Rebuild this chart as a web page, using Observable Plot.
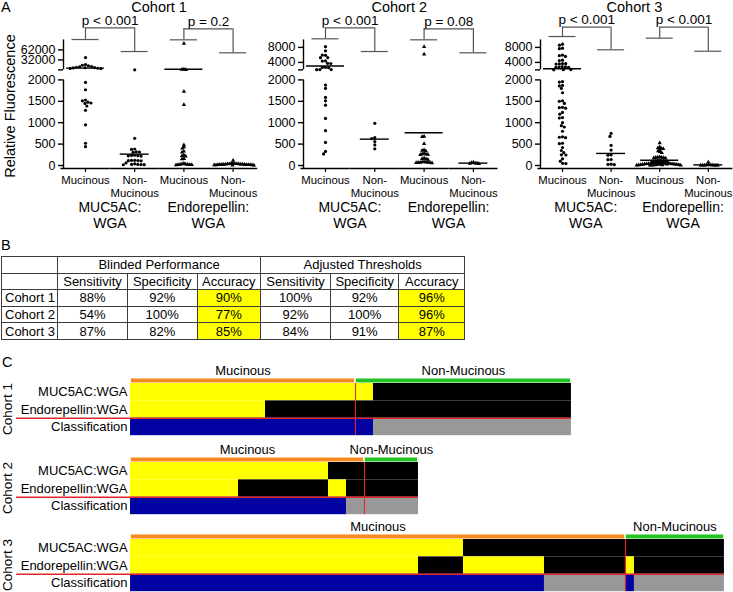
<!DOCTYPE html>
<html>
<head>
<meta charset="utf-8">
<script src="https://cdn.jsdelivr.net/npm/d3@7"></script>
<script src="https://cdn.jsdelivr.net/npm/@observablehq/plot@0.6"></script>
<style>
html,body{margin:0;padding:0;background:#fff;}
#fig{position:relative;width:733px;height:592px;overflow:hidden;background:#fff;font-family:"Liberation Sans",Arial,Helvetica,sans-serif;color:#000;}
.abs{position:absolute;white-space:pre;line-height:1;}
#tbl{position:absolute;left:1px;top:256px;border-collapse:collapse;table-layout:fixed;width:464px;font-size:13px;}
#tbl td{border:1px solid #3c3c3c;padding:0;height:15.6px;line-height:15px;text-align:center;white-space:nowrap;overflow:hidden;}
#tbl td.lab{text-align:left;padding-left:3px;}
#tbl td.hi{background:#ffff00;}
</style>
</head>
<body>
<div id="fig"></div>
<script>
// ======================= DATA =======================
const cohorts = ["Cohort 1", "Cohort 2", "Cohort 3"];
const groupIds = ["MUC5AC_M", "MUC5AC_N", "ENDO_M", "ENDO_N"];
const groupLabels = ["Mucinous", "Non-\nMucinous", "Mucinous", "Non-\nMucinous"];
const ratioLabels = ["MUC5AC:\nWGA", "Endorepellin:\nWGA"];
const yTitle = "Relative Fluorescence";
const lowerTicks = [0, 500, 1000, 1500, 2000];
const breakValue = 2000;
const upperMax = [92000, 10000, 10000];
const upperTicks = [[32000, 62000], [4000, 8000], [4000, 8000]];

// Panel A values (relative fluorescence), cohort 1
const c1MucMucinous = [39000, 18000, 16000, 14000, 12000, 11000, 10000, 9000, 8500, 8000, 7000, 6500, 5900,
  1940, 1770, 1530, 1510, 1480, 1460, 1450, 1390, 1290, 950, 520, 440];
const c1MucNon = [2100, 635, 385, 375, 320, 315, 310, 240, 235, 230, 225, 220, 120, 118, 115, 112, 110, 60, 40, 25, 24, 22, 20, 18];
const c1EndoMucinous = [81000, 4000, 3200, 2800, 1730, 1420, 480, 430, 400, 330, 310, 240, 225, 215, 160, 150,
  45, 35, 30, 25, 22, 20, 18, 15, 12];
const c1EndoNon = [116, 50, 45, 42, 40, 38, 35, 33, 30, 28, 27, 25, 24, 22, 20, 19, 18, 17, 15, 14, 12, 10, 8, 5];
// cohort 2
const c2MucMucinous = [8200, 7100, 5900, 5950, 5300, 5250, 4400, 4350, 3750, 3700, 2700, 2650, 2600, 2100, 2080, 2050,
  1880, 1800, 1590, 1510, 1410, 1100, 814, 540, 330, 270];
const c2MucNon = [985, 650, 630, 560, 480, 390];
const c2EndoMucinous = [8200, 6200, 680, 670, 510, 360, 350, 340, 280, 270, 265, 255, 250, 170, 160, 150, 140,
  85, 80, 78, 75, 72, 70, 68, 65, 60];
const c2EndoNon = [75, 65, 55, 50, 45, 40];
// cohort 3
const c3MucMucinous = [8850, 8600, 7800, 7650, 5950, 5800, 5600, 4600, 4500, 3700, 3650, 3600, 3550, 2850, 2800, 2750, 2700, 2650, 2100, 2050, 2020,
  1960, 1950, 1870, 1860, 1800, 1700, 1510, 1500, 1450, 1360, 1350, 1340, 1240, 1200, 1120, 1110, 1000, 930, 900, 800,
  670, 660, 650, 520, 510, 420, 350, 300, 250, 245, 155, 100, 50, 45];
const c3MucNon = [750, 680, 470, 360, 250, 240, 140, 135, 30, 25, 20];
const c3EndoMucinous = [527, 430, 410, 400, 390, 370, 340, 320, 300, 200, 195, 190, 185, 180, 175, 170,
  120, 115, 110, 105, 100, 95, 90, 85, 80, 75, 70, 65, 60, 55, 50,
  48, 46, 44, 42, 40, 38, 36, 34, 32, 30, 28, 26, 24, 22, 20, 18, 16, 14, 12, 10, 8, 6, 5, 4];
const c3EndoNon = [75, 15, 12, 10, 10, 8, 8, 6, 5, 5, 4];

const pValues = [["p < 0.001", "p = 0.2"], ["p < 0.001", "p = 0.08"], ["p < 0.001", "p < 0.001"]];
// bracket levels, read against each cohort's upper axis segment
const bracketTop = [[128300, 125200], [13230, 12950], [13390, 13390]];
const bracketLeft = [[93100, 92200], [10290, 10020], [10900, 10460]];
const bracketRight = [[57100, 53300], [6900, 6560], [7360, 6980]];

// Panel B table
const tableGroups = ["Blinded Performance", "Adjusted Thresholds"];
const tableMetrics = ["Sensitivity", "Specificity", "Accuracy"];
const blinded = [[88, 92, 90], [54, 100, 77], [87, 82, 85]];
const adjusted = [[100, 92, 96], [92, 100, 96], [84, 91, 87]];

// Panel C
const rowNames = ["MUC5AC:WGA", "Endorepellin:WGA", "Classification"];
const classNames = ["Mucinous", "Non-Mucinous"];
const nMucinous = [25, 26, 55];
const nNonMucinous = [24, 6, 11];
// alternating run lengths of sample calls, starting with a positive call
const muc5acRuns = [[27, 22], [22, 10], [37, 29]];
const endoRuns = [[15, 34], [12, 10, 2, 8], [32, 5, 9, 9, 1, 10]];
const classRuns = [[27, 22], [24, 8], [46, 9, 1, 10]];

// ======================= LAYOUT / STYLE =======================
const FONT = "'Liberation Sans', Arial, Helvetica, sans-serif";
const fig = document.getElementById("fig");
function addText(txt, css) {
  const d = document.createElement("div");
  d.className = "abs";
  d.textContent = txt;
  Object.assign(d.style, css);
  fig.appendChild(d);
  return d;
}
const valuesA = [
  [c1MucMucinous, c1MucNon, c1EndoMucinous, c1EndoNon],
  [c2MucMucinous, c2MucNon, c2EndoMucinous, c2EndoNon],
  [c3MucMucinous, c3MucNon, c3EndoMucinous, c3EndoNon]
];

const K = 2000 / 85.6;     // display units per pixel on the lower segment
const BW = 44;
const STEPS = [49.2, 49.3, 48.6];
const axisX = [63.3, 303.3, 539.5];
const ML = 50, WA = 250;
const meanW = [38, 29, 38, 29];
const dodgePad = [0, 0, -1.2, -1.3];

function panelA(ci) {
  const STEP = STEPS[ci];
  const uMax = upperMax[ci];
  const G = 10 * K, S = 30 * K;
  const disp = (v) => v <= breakValue ? v : breakValue + G + (v - breakValue) / (uMax - breakValue) * S;
  const rows = [];
  valuesA[ci].forEach((vals, gi) => vals.forEach((v) => rows.push({g: groupIds[gi], v, d: disp(v)})));
  const brackets = [0, 1].map((k) => ({
    a: groupIds[2 * k], b: groupIds[2 * k + 1],
    top: disp(bracketTop[ci][k]), left: disp(bracketLeft[ci][k]), right: disp(bracketRight[ci][k]),
    p: pValues[ci][k]
  }));
  const tickPos = [...lowerTicks.map(disp), breakValue + G, ...upperTicks[ci].map(disp)];
  const tickTxt = [...lowerTicks.map(String), "", ...upperTicks[ci].map(String)];
  const tickMap = new Map(tickPos.map((p, i) => [p, tickTxt[i]]));
  const yDom = [-3 * K, 139 * K];
  const segs = [{y1: yDom[0], y2: disp(breakValue)}, {y1: breakValue + G, y2: breakValue + G + S}];
  const labelOf = Object.fromEntries(groupIds.map((g, i) => [g, groupLabels[i]]));
  const marks = [
    Plot.ruleX(segs, {x: null, y1: "y1", y2: "y2", dx: -BW / 2, stroke: "#000", strokeWidth: 1.4, facetAnchor: "left"}),
    Plot.axisY(tickPos, {tickFormat: (d) => tickMap.get(d), tickSize: 5, tickPadding: 3, fontSize: 12.5, strokeWidth: 1.4, label: null}),
    Plot.ruleY([yDom[0]], {y: (d) => d, stroke: "#000", strokeWidth: 1.4, insetLeft: -2.6, insetRight: -2.6}),
    Plot.axisFx({anchor: "bottom", tickSize: 4, tickPadding: 2, fontSize: 11.3, lineHeight: 1.15, tickFormat: (g) => labelOf[g], label: null, strokeWidth: 1.2})
  ];
  groupIds.forEach((g, gi) => {
    const data = rows.filter((r) => r.g === g);
    const tri = gi >= 2;
    marks.push(Plot.dot(data, Plot.dodgeX({anchor: "middle", padding: dodgePad[gi]},
      {fx: "g", y: "d", r: 1.6, fill: "#000", stroke: "none", symbol: tri ? "triangle" : "circle"})));
    const inset = (BW - meanW[gi]) / 2;
    marks.push(Plot.ruleY(data, Plot.groupZ({y: (vals) => disp(d3.mean(vals))},
      {fx: "g", y: "v", insetLeft: inset, insetRight: inset, stroke: "#000", strokeWidth: 1.4})));
  });
  const bc = "#555";
  marks.push(
    Plot.ruleY(brackets, {fx: "a", y: "top", insetLeft: BW / 2, insetRight: BW / 2 - STEP, stroke: bc, strokeWidth: 1.2}),
    Plot.ruleX(brackets, {fx: "a", x: null, y1: "left", y2: "top", stroke: bc, strokeWidth: 1.2}),
    Plot.ruleX(brackets, {fx: "b", x: null, y1: "right", y2: "top", stroke: bc, strokeWidth: 1.2}),
    Plot.ruleY(brackets, {fx: "a", y: "left", insetLeft: 8.5, insetRight: 8.5, stroke: bc, strokeWidth: 1.2}),
    Plot.ruleY(brackets, {fx: "b", y: "right", insetLeft: 8.5, insetRight: 8.5, stroke: bc, strokeWidth: 1.2}),
    Plot.text(brackets, {fx: "a", y: "top", text: "p", dx: STEP / 2, dy: -3, lineAnchor: "bottom", fontSize: 13.5, fill: "#000"})
  );
  const svg = Plot.plot({
    width: WA, height: 205,
    marginLeft: ML, marginRight: WA - ML - (4 * BW + 3 * (STEP - BW)), marginTop: 26, marginBottom: 37,
    style: `font-family:${FONT};overflow:visible;background:transparent;max-width:none;`,
    fx: {domain: groupIds, paddingInner: (STEP - BW) / STEP, paddingOuter: 0, round: false, label: null},
    y: {domain: yDom, label: null},
    marks
  });
  svg.style.position = "absolute";
  svg.style.left = (axisX[ci] - ML) + "px";
  svg.style.top = "0px";
  fig.appendChild(svg);
  // titles and pair labels
  const c0 = axisX[ci] + BW / 2;
  addText(cohorts[ci], {left: (c0 + 1.5 * STEP) + "px", top: "0px", fontSize: "14.5px", transform: "translateX(-50%)"});
  ratioLabels.forEach((t, k) => {
    addText(t, {left: (c0 + (2 * k + 0.5) * STEP) + "px", top: "199px", fontSize: "14px", lineHeight: "16px", textAlign: "center", transform: "translateX(-50%)"});
  });
}

function panelC(ci) {
  const nM = nMucinous[ci], nN = nNonMucinous[ci], n = nM + nN;
  const YELLOW = "#ffff00", BLUE = "#0202a2", GREY = "#989898", ORANGE = "#f68a1f", GREEN = "#22c322", RED = "#e2262a";
  const segs = [];
  [muc5acRuns[ci], endoRuns[ci], classRuns[ci]].forEach((runs, row) => {
    const ends = d3.cumsum(runs);
    runs.forEach((len, k) => segs.push({row, x1: ends[k] - len, x2: ends[k], pos: k % 2 === 0}));
  });
  const header = [
    {x1: 0, x2: nM, label: classNames[0], fill: ORANGE},
    {x1: nM, x2: n, label: classNames[1], fill: GREEN}
  ];
  const fillOf = (s) => s.row < 2 ? (s.pos ? YELLOW : "#000000") : (s.pos ? BLUE : GREY);
  const PX = 9, MLC = 130, ROWH = 17.4;
  const svg = Plot.plot({
    width: MLC + n * PX + 4, height: 20 + 3 * ROWH + 1,
    marginLeft: MLC, marginRight: 4, marginTop: 20, marginBottom: 1,
    style: `font-family:${FONT};overflow:visible;background:transparent;max-width:none;`,
    x: {domain: [0, n], axis: null},
    y: {domain: [0, 3], reverse: true, axis: null},
    color: {type: "identity"},
    marks: [
      Plot.rect(header, {x1: "x1", x2: "x2", y1: -0.26, y2: -0.03, fill: "fill", insetLeft: 0.8, insetRight: 0.8}),
      Plot.text(header, {x: (d) => (d.x1 + d.x2) / 2, y: -0.26, text: "label", dy: -4, lineAnchor: "bottom", fontSize: 13, fill: "#000"}),
      Plot.rect(segs, {x1: "x1", x2: "x2", y1: "row", y2: (d) => d.row + 1, fill: fillOf}),
      Plot.ruleX([nM], {x: (d) => d, y1: 0, y2: 3, stroke: RED, strokeWidth: 1.1}),
      Plot.ruleY([2], {y: (d) => d, stroke: RED, strokeWidth: 1.6, insetLeft: -(MLC - 16)}),
      Plot.text(rowNames, {x: 0, y: (d, i) => i + 0.5, text: (d) => d, textAnchor: "end", dx: -3, fontSize: 13, fill: "#000"})
    ]
  });
  const top = [363.3, 441.7, 519.3][ci];
  svg.style.position = "absolute";
  svg.style.left = "0px";
  svg.style.top = top + "px";
  fig.appendChild(svg);
  addText(cohorts[ci], {left: "8px", top: (top + 20 + 1.5 * ROWH) + "px", fontSize: "13.5px", transform: "translate(-50%,-50%) rotate(-90deg)"});
}

// ---- Panel A ----
addText("A", {left: "1px", top: "0px", fontSize: "14.5px"});
addText(yTitle, {left: "10px", top: "106px", fontSize: "14.5px", transform: "translate(-50%,-50%) rotate(-90deg)"});
[0, 1, 2].forEach(panelA);

// ---- Panel B ----
addText("B", {left: "1px", top: "238px", fontSize: "14.5px"});
(function () {
  const t = document.createElement("table");
  t.id = "tbl";
  const cg = document.createElement("colgroup");
  [56.3, 69.4, 70, 63.3, 70, 68.3, 66].forEach((w) => {
    const c = document.createElement("col"); c.style.width = w + "px"; cg.appendChild(c);
  });
  t.appendChild(cg);
  const r1 = t.insertRow();
  r1.insertCell();
  tableGroups.forEach((g) => { const c = r1.insertCell(); c.colSpan = 3; c.textContent = g; });
  const r2 = t.insertRow();
  r2.insertCell();
  tableGroups.forEach(() => tableMetrics.forEach((m) => { const c = r2.insertCell(); c.textContent = m; }));
  cohorts.forEach((name, i) => {
    const r = t.insertRow();
    const c0 = r.insertCell(); c0.className = "lab"; c0.textContent = name;
    [blinded[i], adjusted[i]].forEach((vals) => vals.forEach((v, k) => {
      const c = r.insertCell(); c.textContent = v + "%";
      if (k === 2) c.className = "hi";
    }));
  });
  fig.appendChild(t);
})();

// ---- Panel C ----
addText("C", {left: "2px", top: "355px", fontSize: "14.5px"});
[0, 1, 2].forEach(panelC);
</script>
</body>
</html>
